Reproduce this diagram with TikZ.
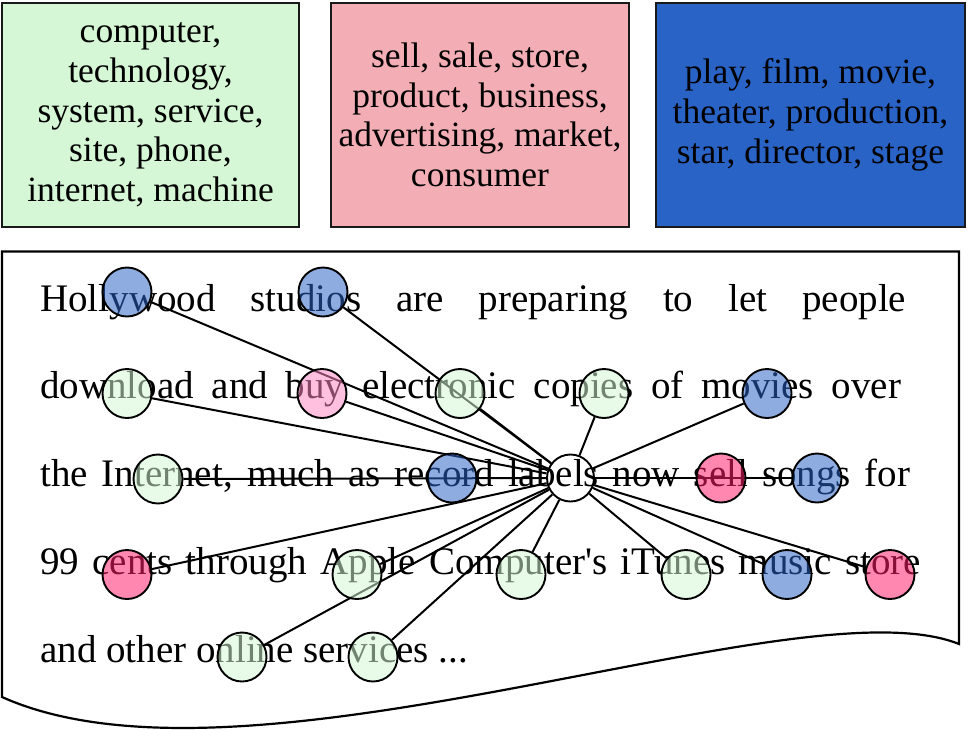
\documentclass[tikz,border=0pt]{standalone}
\usepackage{fontspec}
\setmainfont{Liberation Serif}
\pgfdeclarelayer{back}
\pgfdeclarelayer{mid}
\pgfsetlayers{back,mid,main}
\definecolor{gbox}{HTML}{D5F7D5}
\definecolor{pbox}{HTML}{F2AEB4}
\definecolor{bbox}{HTML}{2A63C6}
\definecolor{pinkL}{HTML}{FF88C4}
\definecolor{pinkS}{HTML}{FF1E6A}
\tikzset{
  topicbox/.style={draw=black!90, line width=2.2pt, inner sep=0pt, align=center,
    font=\fontsize{35.5}{39.7}\selectfont},
  textline/.style={anchor=base west, inner sep=0pt, font=\fontsize{39}{47}\selectfont},
  wc/.style={circle, draw=black, line width=1.9pt, minimum size=49pt, inner sep=0pt, fill opacity=0.53},
  gw/.style={wc, fill=gbox},
  bw/.style={wc, fill=bbox},
  pl/.style={wc, fill=pinkL},
  ps/.style={wc, fill=pinkS},
  hub/.style={circle, draw=black, line width=1.9pt, minimum size=47pt, inner sep=0pt},
  edge/.style={draw=black, line width=2pt},
  docshape/.style={draw=black, line width=2.2pt, fill=white}
}
\begin{document}
\begin{tikzpicture}[x=1pt,y=-1pt]
\useasboundingbox (0,0) rectangle (968,729);
% topic boxes
\node[topicbox, fill=gbox, minimum width=297pt, minimum height=224pt] (tg) at (150.5,115)
  {computer,\\technology,\\system, service,\\site, phone,\\internet, machine};
\node[topicbox, fill=pbox, minimum width=298pt, minimum height=224pt] (tp) at (480,115)
  {sell, sale, store,\\product, business,\\advertising, market,\\consumer};
\node[topicbox, fill=bbox, minimum width=309pt, minimum height=224pt] (tb) at (810.5,115)
  {play, film, movie,\\theater, production,\\star, director, stage};
% document
\begin{pgfonlayer}{back}
\path[docshape] (2,251.5) -- (959,251.5) -- (959,644)
  .. controls (800,580) and (250,808) .. (2,697) -- cycle;
\node[textline] (l1) at (40,311.7) {\makebox[866pt][s]{Hollywood studios are preparing to let people}};
\node[textline] (l2) at (40,398.3) {\makebox[861pt][s]{download and buy electronic copies of movies over}};
\node[textline] (l3) at (40,486) {\makebox[870pt][s]{the Internet, much as record labels now sell songs for}};
\node[textline] (l4) at (40,574) {\makebox[881pt][s]{99 cents through Apple Computer\textquotesingle s iTunes music store}};
\node[textline] (l5) at (40,662) {and other online services ...};
\end{pgfonlayer}
% word circles
\node[hub] (c) at (570.5,478) {};
\node[bw] (w1) at (127,292) {};
\node[bw] (w2) at (323,292) {};
\node[gw] (w3) at (127,393.5) {};
\node[pl] (w4) at (322,393.5) {};
\node[gw] (w5) at (460,393.5) {};
\node[gw] (w6) at (604,393.5) {};
\node[bw] (w7) at (767,393.5) {};
\node[gw] (w8) at (158,479) {};
\node[bw] (w9) at (452,478) {};
\node[ps] (w10) at (721,478) {};
\node[bw] (w11) at (817,478) {};
\node[ps] (w12) at (127,574.5) {};
\node[gw] (w13) at (357,574.5) {};
\node[gw] (w14) at (521,574.5) {};
\node[gw] (w15) at (686,574.5) {};
\node[bw] (w16) at (787,574.5) {};
\node[ps] (w17) at (890,574.5) {};
\node[gw] (w18) at (242,657) {};
\node[gw] (w19) at (373,657) {};
% edges
\begin{pgfonlayer}{mid}
\foreach \n in {w1,w2,w3,w4,w5,w6,w7,w8,w9,w10,w11,w12,w13,w14,w15,w16,w17,w18,w19}
  \draw[edge] (\n) -- (c);
\end{pgfonlayer}
\end{tikzpicture}
\end{document}
